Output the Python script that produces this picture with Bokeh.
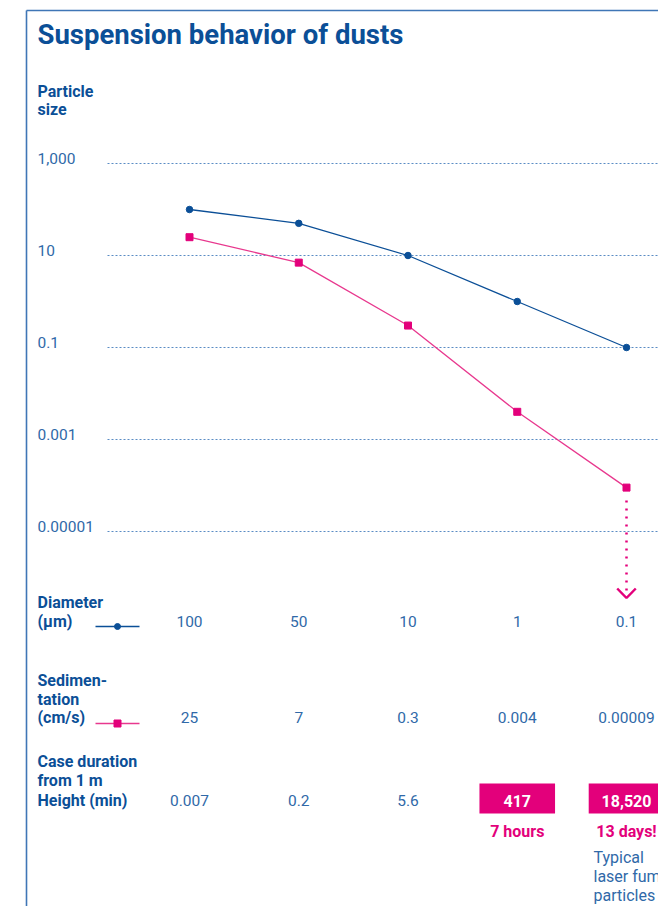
from bokeh.plotting import figure
from bokeh.models import Range1d
from bokeh.embed import file_html
from bokeh.resources import INLINE
from bokeh.core.properties import value
import math

# ---------------- data ----------------
categories = [0, 1, 2, 3, 4]
diameter_um = [100, 50, 10, 1, 0.1]
diameter_labels = ["100", "50", "10", "1", "0.1"]
sedimentation_cm_s = [25, 7, 0.3, 0.004, 0.00009]
sedimentation_labels = ["25", "7", "0.3", "0.004", "0.00009"]
duration_min = [0.007, 0.2, 5.6, 417, 18520]
duration_labels = ["0.007", "0.2", "5.6", "417", "18,520"]
highlight = [False, False, False, True, True]
notes = ["", "", "", "7 hours", "13 days!"]
y_ticks = [1000, 10, 0.1, 0.001, 0.00001]
y_tick_labels = ["1,000", "10", "0.1", "0.001", "0.00001"]

TITLE = "Suspension behavior of dusts"
Y_TITLE = ["Particle", "size"]
ROW_LABELS = [["Diameter", "(µm)"], ["Sedimen-", "tation", "(cm/s)"],
              ["Case duration", "from 1 m", "Height (min)"]]
FOOTNOTE = ["Typical", "laser fume", "particles"]

# ---------------- layout helpers (canvas pixel -> data) ----------------
W, H = 658, 906
CAT0_X, CAT_DX = 189, 109.25
DEC_Y, DEC_PX = 163, 46  # pixel row of 1,000 and pixels per decade
K = 0.37                 # baseline correction (fraction of font size)


def hx(px):
    return (px - CAT0_X) / CAT_DX


def hy(py):
    return 10 ** (3 - (py - DEC_Y) / DEC_PX)


def tb(py, fs):
    """data y for a text whose alphabetic baseline should sit at pixel row py"""
    return hy(py - K * fs)


DARK = "#0b4f97"
MID = "#3069a8"
GRID = "#5a8cc4"
FRAME = "#3f76b6"
PINK = "#e3007b"
PINK_LINE = "#e8388e"
FONT = value("Roboto")

p = figure(width=W, height=H, output_backend="svg", toolbar_location=None,
           x_range=Range1d(hx(0), hx(W)),
           y_range=Range1d(hy(H), hy(0)),
           y_axis_type="log", x_axis_location=None, y_axis_location=None,
           min_border=0, outline_line_color=None, tools="")
p.grid.visible = False
p.background_fill_color = "white"
p.border_fill_color = "white"

# frame lines
p.line([hx(26), hx(26)], [hy(10), hy(H)], line_color=FRAME, line_width=1.6)
p.line([hx(26), hx(W)], [hy(10), hy(10)], line_color=FRAME, line_width=1.6)

# title and y title
p.text(x=[hx(37)], y=[tb(44, 27.5)], text=[TITLE], text_font=FONT, text_font_style="bold",
       text_font_size="27.5px", text_color=DARK, text_baseline="alphabetic")
p.text(x=[hx(37)] * 2, y=[tb(97, 16), tb(115, 16)], text=Y_TITLE, text_font=FONT,
       text_font_style="bold", text_font_size="16px", text_color=DARK,
       text_baseline="alphabetic")

# grid lines and tick labels
p.segment(x0=[hx(107)] * len(y_ticks), x1=[hx(W)] * len(y_ticks),
          y0=y_ticks, y1=y_ticks, line_color=GRID, line_width=1.2, line_dash="2 2")
tick_px = [DEC_Y + (3 - math.log10(t)) * DEC_PX for t in y_ticks]
p.text(x=[hx(37)] * len(y_ticks), y=[tb(ty + 1, 15.5) for ty in tick_px], text=y_tick_labels,
       text_font=FONT, text_font_size="15.5px", text_color=MID, text_baseline="alphabetic")

# series
p.line(categories, diameter_um, line_color=DARK, line_width=1.3)
p.scatter(categories, diameter_um, marker="circle", size=6.5, color=DARK)
p.line(categories, sedimentation_cm_s, line_color=PINK_LINE, line_width=1.3)
p.scatter(categories, sedimentation_cm_s, marker="square", size=7, color=PINK)

# dotted arrow below the last sedimentation point
last = categories[-1]
p.line([last, last], [hy(500), hy(594)], line_color=PINK, line_width=2.5, line_dash="2 6")
p.line([last - 0.085, last, last + 0.085], [hy(588), hy(597.5), hy(588)],
       line_color=PINK, line_width=2.5)

# table row labels
label_baselines = [[608, 627], [686, 704.5, 723], [767, 786, 805.5]]
for lines, bases in zip(ROW_LABELS, label_baselines):
    p.text(x=[hx(37)] * len(lines), y=[tb(b, 16) for b in bases], text=lines, text_font=FONT,
           text_font_style="bold", text_font_size="16px", text_color=DARK,
           text_baseline="alphabetic")

# legend keys in table
p.line([hx(95), hx(139)], [hy(626)] * 2, line_color=DARK, line_width=1.3)
p.scatter([hx(117)], [hy(626)], marker="circle", size=6, color=DARK)
p.line([hx(95), hx(139)], [hy(723)] * 2, line_color=PINK_LINE, line_width=1.3)
p.scatter([hx(117)], [hy(723)], marker="square", size=7, color=PINK)

# table values
p.text(x=categories, y=[tb(627, 15.5)] * 5, text=diameter_labels, text_font=FONT,
       text_font_size="15.5px", text_color=MID, text_align="center", text_baseline="alphabetic")
p.text(x=categories, y=[tb(723, 15.5)] * 5, text=sedimentation_labels, text_font=FONT,
       text_font_size="15.5px", text_color=MID, text_align="center", text_baseline="alphabetic")

hx_idx = [c for c, h in zip(categories, highlight) if h]
half = 0.346
p.quad(left=[c - half for c in hx_idx], right=[c + half for c in hx_idx],
       bottom=[hy(813)] * len(hx_idx), top=[hy(783)] * len(hx_idx),
       fill_color=PINK, line_color=None)
p.text(x=[c for c, h in zip(categories, highlight) if not h], y=[tb(806, 15.5)] * 3,
       text=[t for t, h in zip(duration_labels, highlight) if not h], text_font=FONT,
       text_font_size="15.5px", text_color=MID, text_align="center", text_baseline="alphabetic")
p.text(x=hx_idx, y=[tb(806, 16)] * len(hx_idx),
       text=[t for t, h in zip(duration_labels, highlight) if h], text_font=FONT,
       text_font_style="bold", text_font_size="16px", text_color="white",
       text_align="center", text_baseline="alphabetic")
p.text(x=hx_idx, y=[tb(837, 16)] * len(hx_idx),
       text=[n for n, h in zip(notes, highlight) if h], text_font=FONT,
       text_font_style="bold", text_font_size="16px", text_color=PINK,
       text_align="center", text_baseline="alphabetic")

# footnote
p.text(x=[hx(593)] * 3, y=[tb(862.5, 16), tb(882, 16), tb(901, 16)], text=FOOTNOTE,
       text_font=FONT, text_font_size="16px", text_color=MID, text_baseline="alphabetic")

open("out.html", "w").write(file_html(p, INLINE))
